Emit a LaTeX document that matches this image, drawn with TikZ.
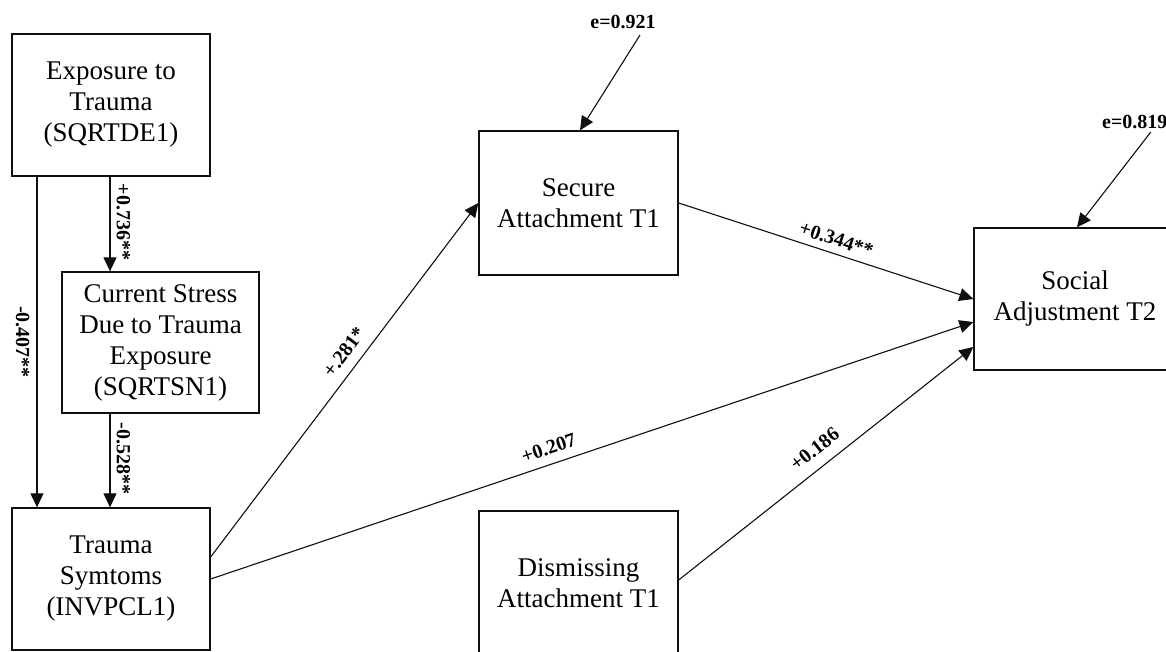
\documentclass[tikz,border=0pt]{standalone}
\usepackage{fontspec}
\setmainfont{Liberation Serif}
\usepackage{tikz}
\usetikzlibrary{arrows.meta, positioning, calc}
\definecolor{inkblack}{RGB}{15, 15, 15}

\begin{document}
\begin{tikzpicture}[x=1pt, y=-1pt,
	box/.style={draw=inkblack, line width=1.3pt, align=center, inner sep=0pt,
		font=\fontsize{27}{31}\selectfont},
	regpath/.style={draw=inkblack, line width=1.1pt, -{Triangle[length=14pt, width=13pt]}},
	coef/.style={font=\fontsize{20}{22}\selectfont\bfseries, inner sep=2pt}]
	\useasboundingbox (0,0) rectangle (1166,652);
	% measured variables
	\foreach \nm/\x/\y/\w/\h/\txt in {
		expo/111/105/198/142/{Exposure to\\Trauma\\(SQRTDE1)},
		stress/160.5/342.5/197/141/{Current Stress\\Due to Trauma\\Exposure\\(SQRTSN1)},
		trauma/111/579/198/142/{Trauma\\Symtoms\\(INVPCL1)},
		secure/578.5/203/199/144/{Secure\\Attachment T1},
		dismiss/578.5/583/199/144/{Dismissing\\Attachment T1},
		social/1075/299/202/142/{Social\\Adjustment T2}}{
		\node[box, minimum width=\w pt, minimum height=\h pt] (\nm) at (\x,\y) {\txt};
	}
	% residuals
	\node[coef] (e1) at (623,22) {e=0.921};
	\node[coef, anchor=west] (e2) at (1100,122) {e=0.819};
	% paths
	\draw[regpath] ([xshift=-74pt]expo.south) -- ([xshift=-74pt]trauma.north)
		node[coef, pos=.5, sloped, below=5pt] {-0.407**};
	\draw[regpath] ([xshift=-1pt]expo.south) -- ([xshift=-50.5pt]stress.north)
		node[coef, pos=.48, sloped, above=4pt] {+0.736**};
	\draw[regpath] ([xshift=-50.5pt]stress.south) -- ([xshift=-1pt]trauma.north)
		node[coef, pos=.48, sloped, above=4pt] {-0.528**};
	\draw[regpath] ([yshift=22pt]trauma.east) -- (secure.west)
		node[coef, pos=.55, sloped, above=8pt] {+.281*};
	\draw[regpath] (trauma.east) -- ([yshift=-23pt]social.west)
		node[coef, pos=.45, sloped, above=7pt] {+0.207};
	\draw[regpath] (secure.east) -- (social.west)
		node[coef, pos=.52, sloped, above=5pt] {+0.344**};
	\draw[regpath] ([yshift=3pt]dismiss.east) -- ([yshift=-48pt]social.west)
		node[coef, pos=.5, sloped, above=9pt] {+0.186};
	\draw[regpath] ([xshift=17pt, yshift=-4pt]e1.south) -- ([xshift=1.5pt]secure.north);
	\draw[regpath] ([xshift=16pt, yshift=-1pt]e2.south) -- ([xshift=2pt]social.north);
\end{tikzpicture}
\end{document}
